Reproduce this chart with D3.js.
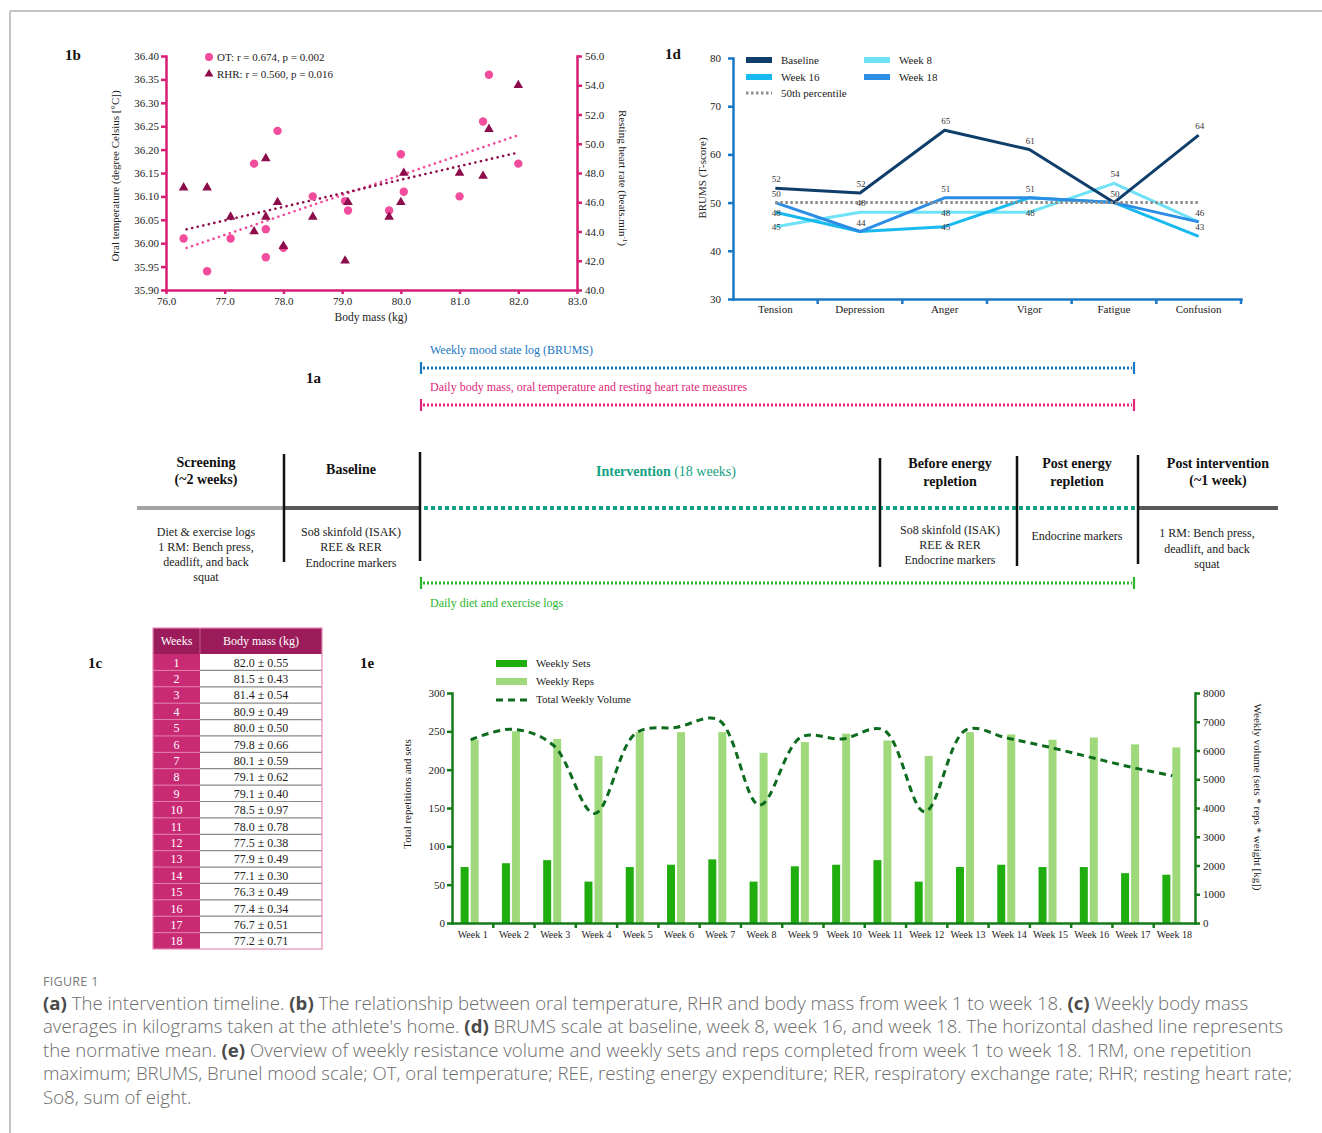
<!DOCTYPE html>
<html>
<head>
<meta charset="utf-8">
<script src="https://cdn.jsdelivr.net/npm/d3@7/dist/d3.min.js"></script>
<style>
html,body{margin:0;padding:0;background:#fff;}
svg{display:block;}
</style>
</head>
<body>
<svg id="fig" width="1322" height="1133" xmlns="http://www.w3.org/2000/svg"></svg>
<script>
// ================= DATA =================
// 1b scatter: body mass vs oral temperature / resting heart rate
const otMass   = [76.3,76.7,77.1,77.5,77.7,77.7,77.9,78.0,78.5,79.05,79.1,79.8,80.0,80.05,81.0,81.4,81.5,82.0];
const otTemp   = [36.01,35.94,36.01,36.17,36.03,35.97,36.24,35.99,36.10,36.09,36.07,36.07,36.19,36.11,36.10,36.26,36.36,36.17];
const rhrMass  = [76.3,76.7,77.1,77.5,77.7,77.7,77.9,78.0,78.5,79.05,79.1,79.8,80.0,80.05,81.0,81.4,81.5,82.0];
const rhrBeats = [47,47,45,44,49,45,46,43,45,42,46,45,46,48,48,47.8,51,54];
const otTrendMass = [76.35, 81.98];
const otTrendTemp = [35.99, 36.23];
const rhrTrendMass = [76.35, 82.0];
const rhrTrendBeats = [44.15, 49.4];
const massTicks = [76,77,78,79,80,81,82,83];
const otTicks = [35.90,35.95,36.00,36.05,36.10,36.15,36.20,36.25,36.30,36.35,36.40];
const rhrTicks = [40,42,44,46,48,50,52,54,56];
const legend1b = ["OT: r = 0.674, p = 0.002", "RHR: r = 0.560, p = 0.016"];

// 1d BRUMS
const brumsCats = ["Tension","Depression","Anger","Vigor","Fatigue","Confusion"];
const brumsBaseline = [53,52,65,61,50,64];
const brumsWeek8    = [45,48,48,48,54,46];
const brumsWeek16   = [48,44,45,51,50,43];
const brumsWeek18   = [50,44,51,51,50,46];
const brumsNorm = 50;
const brumsTicks = [30,40,50,60,70,80];
const brumsLabels = [
  ["Tension","Baseline","52"],["Tension","Week 18","50"],["Tension","Week 16","48"],["Tension","Week 8","45"],
  ["Depression","Baseline","52"],["Depression","Week 8","48"],["Depression","Week 16","44"],
  ["Anger","Baseline","65"],["Anger","Week 18","51"],["Anger","Week 8","48"],["Anger","Week 16","45"],
  ["Vigor","Baseline","61"],["Vigor","Week 16","51"],["Vigor","Week 8","48"],
  ["Fatigue","Week 8","54"],["Fatigue","Baseline","50"],
  ["Confusion","Baseline","64"],["Confusion","Week 18","46"],["Confusion","Week 16","43"]
];

// 1c table
const tableWeeks = [1,2,3,4,5,6,7,8,9,10,11,12,13,14,15,16,17,18];
const massMean = [82.0,81.5,81.4,80.9,80.0,79.8,80.1,79.1,79.1,78.5,78.0,77.5,77.9,77.1,76.3,77.4,76.7,77.2];
const massSD   = [0.55,0.43,0.54,0.49,0.50,0.66,0.59,0.62,0.40,0.97,0.78,0.38,0.49,0.30,0.49,0.34,0.51,0.71];

// 1e training volume
const weekLabels = ["Week 1","Week 2","Week 3","Week 4","Week 5","Week 6","Week 7","Week 8","Week 9","Week 10","Week 11","Week 12","Week 13","Week 14","Week 15","Week 16","Week 17","Week 18"];
const weeklySets = [73,78,82,54,73,76,83,54,74,76,82,54,73,76,73,73,65,63];
const weeklyReps = [239,250,240,218,249,249,249,222,236,247,238,218,249,246,239,242,233,229];
const weeklyVolume = [6370,6740,6190,3810,6600,6810,7070,4100,6460,6400,6720,3870,6720,6430,6120,5770,5420,5120];
const repsTicks = [0,50,100,150,200,250,300];
const volumeTicks = [0,1000,2000,3000,4000,5000,6000,7000,8000];

// 1a timeline texts
const phaseHeaders = [["Screening","(~2 weeks)"],["Baseline"],["Intervention"],["Before energy","repletion"],["Post energy","repletion"],["Post intervention","(~1 week)"]];
const phaseNotes = [
  ["Diet & exercise logs","1 RM: Bench press,","deadlift, and back","squat"],
  ["So8 skinfold (ISAK)","REE & RER","Endocrine markers"],
  [],
  ["So8 skinfold (ISAK)","REE & RER","Endocrine markers"],
  ["Endocrine markers"],
  ["1 RM: Bench press,","deadlift, and back","squat"]
];

// caption
const captionTitle = "FIGURE 1";
const captionLines = [
  [["(a)",1],[" The intervention timeline. ",0],["(b)",1],[" The relationship between oral temperature, RHR and body mass from week 1 to week 18. ",0],["(c)",1],[" Weekly body mass",0]],
  [["averages in kilograms taken at the athlete's home. ",0],["(d)",1],[" BRUMS scale at baseline, week 8, week 16, and week 18. The horizontal dashed line represents",0]],
  [["the normative mean. ",0],["(e)",1],[" Overview of weekly resistance volume and weekly sets and reps completed from week 1 to week 18. 1RM, one repetition",0]],
  [["maximum; BRUMS, Brunel mood scale; OT, oral temperature; REE, resting energy expenditure; RER, respiratory exchange rate; RHR; resting heart rate;",0]],
  [["So8, sum of eight.",0]]
];

// ================= DRAW =================
const SERIF = '"Liberation Serif","Times New Roman",Times,serif';
const SANS = '"Open Sans","Noto Sans",sans-serif';
const svg = d3.select("#fig");
svg.append("rect").attr("width",1322).attr("height",1133).attr("fill","#fff");

// frame
svg.append("line").attr("x1",10).attr("x2",1322).attr("y1",11).attr("y2",11).attr("stroke","#c4c4c4").attr("stroke-width",2);
svg.append("line").attr("x1",10).attr("x2",10).attr("y1",11).attr("y2",1133).attr("stroke","#c4c4c4").attr("stroke-width",2);

function styleAxis(g, color, fs) {
  g.attr("font-family", SERIF).attr("font-size", fs);
  g.select(".domain").attr("stroke", color).attr("stroke-width", 2.5).attr("stroke-linecap","square");
  g.selectAll(".tick line").attr("stroke", color).attr("stroke-width", 2.5);
  g.selectAll(".tick text").attr("fill", "#222");
}
function panelLabel(t, x, y) {
  svg.append("text").attr("x",x).attr("y",y).attr("font-family",SERIF).attr("font-weight","bold").attr("font-size",15).attr("fill","#111").text(t);
}

// ---------- 1b ----------
(function(){
  const col = "#d81e74", ptCol = "#f24c9c", triCol = "#8c0c4c";
  const x = d3.scaleLinear().domain([76,83]).range([166,577]);
  const yL = d3.scaleLinear().domain([35.9,36.4]).range([290,56]);
  const yR = d3.scaleLinear().domain([40,56]).range([290,56]);
  const g = svg.append("g");
  const otTrend = otTrendMass.map((m,i)=>[m, otTrendTemp[i]]);
  const rhrTrend = rhrTrendMass.map((m,i)=>[m, rhrTrendBeats[i]]);
  g.append("path").attr("d", d3.line().x(d=>x(d[0])).y(d=>yL(d[1]))(otTrend))
    .attr("stroke", ptCol).attr("stroke-width",2.6).attr("stroke-linecap","round").attr("stroke-dasharray","0.1,5.6").attr("fill","none");
  g.append("path").attr("d", d3.line().x(d=>x(d[0])).y(d=>yR(d[1]))(rhrTrend))
    .attr("stroke", triCol).attr("stroke-width",2.6).attr("stroke-linecap","round").attr("stroke-dasharray","0.1,5.6").attr("fill","none");
  g.selectAll("circle.ot").data(otMass.map((m,i)=>[m, otTemp[i]])).join("circle")
    .attr("cx", d=>x(d[0])).attr("cy", d=>yL(d[1])).attr("r",4.2).attr("fill",ptCol);
  g.selectAll("path.rhr").data(rhrMass.map((m,i)=>[m, rhrBeats[i]])).join("path")
    .attr("d", d3.symbol(d3.symbolTriangle, 40)).attr("transform", d=>`translate(${x(d[0])},${yR(d[1])})`).attr("fill",triCol);
  const ax = svg.append("g").attr("transform","translate(0,290)")
    .call(d3.axisBottom(x).tickValues(massTicks).tickFormat(d3.format(".1f")).tickSize(4).tickSizeOuter(0).tickPadding(3));
  styleAxis(ax, col, 11);
  const al = svg.append("g").attr("transform","translate(166,0)")
    .call(d3.axisLeft(yL).tickValues(otTicks).tickFormat(d3.format(".2f")).tickSize(5).tickSizeOuter(0).tickPadding(2));
  styleAxis(al, col, 11);
  const ar = svg.append("g").attr("transform","translate(577,0)")
    .call(d3.axisRight(yR).tickValues(rhrTicks).tickFormat(d3.format(".1f")).tickSize(5).tickSizeOuter(0).tickPadding(3));
  styleAxis(ar, col, 11);
  svg.append("text").attr("x",371).attr("y",321).attr("text-anchor","middle").attr("font-family",SERIF).attr("font-size",11.5).attr("fill","#222").text("Body mass (kg)");
  svg.append("text").attr("transform","translate(119,176) rotate(-90)").attr("text-anchor","middle").attr("font-family",SERIF).attr("font-size",11).attr("fill","#222").text("Oral temperature (degree Celsius [°C])");
  const rt = svg.append("text").attr("transform","translate(619,178) rotate(90)").attr("text-anchor","middle").attr("font-family",SERIF).attr("font-size",11).attr("fill","#222");
  rt.append("tspan").text("Resting heart rate (beats.min");
  rt.append("tspan").attr("font-size",7).attr("dy",-4).text("-1");
  rt.append("tspan").attr("dy",4).text(")");
  svg.append("circle").attr("cx",209).attr("cy",57).attr("r",4).attr("fill",ptCol);
  svg.append("path").attr("d",d3.symbol(d3.symbolTriangle,34)).attr("transform","translate(209,74)").attr("fill",triCol);
  legend1b.forEach((t,i)=>{
    svg.append("text").attr("x",217).attr("y",61+i*17).attr("font-family",SERIF).attr("font-size",11).attr("fill","#222").text(t);
  });
  panelLabel("1b", 65, 60);
})();

// ---------- 1d ----------
(function(){
  const col = "#1a77c4";
  const x = d3.scaleBand().domain(brumsCats).range([733,1241]);
  const y = d3.scaleLinear().domain([30,80]).range([299,58]);
  const cx = c => x(c) + x.bandwidth()/2;
  const series = [
    {name:"Week 8",  vals:brumsWeek8,  color:"#6fe2f7"},
    {name:"Week 16", vals:brumsWeek16, color:"#18b9ef"},
    {name:"Week 18", vals:brumsWeek18, color:"#2b8de4"},
    {name:"Baseline",vals:brumsBaseline,color:"#0f3e6b"}
  ];
  const line = d3.line().x((d,i)=>cx(brumsCats[i])).y(d=>y(d));
  series.forEach(s=>{
    svg.append("path").attr("d", line(s.vals)).attr("fill","none").attr("stroke",s.color).attr("stroke-width",3).attr("stroke-linejoin","round");
  });
  svg.append("path").attr("d", line(brumsCats.map(()=>brumsNorm))).attr("fill","none")
    .attr("stroke","#8e8e8e").attr("stroke-width",3).attr("stroke-dasharray","2.5,2.5");
  const al = svg.append("g").attr("transform","translate(733,0)")
    .call(d3.axisLeft(y).tickValues(brumsTicks).tickSize(5).tickSizeOuter(0).tickPadding(7));
  styleAxis(al, col, 11);
  const ab = svg.append("g").attr("transform","translate(0,299)")
    .call(d3.axisBottom(x).tickSize(0).tickPadding(6));
  styleAxis(ab, col, 11);
  ab.selectAll(".bt").data(brumsCats.slice(1).concat(["__end"])).join("line")
    .attr("x1",(d,i)=>x.range()[0]+(i+1)*x.bandwidth()).attr("x2",(d,i)=>x.range()[0]+(i+1)*x.bandwidth())
    .attr("y1",0).attr("y2",5).attr("stroke",col).attr("stroke-width",2.5);
  svg.append("text").attr("transform","translate(706,178) rotate(-90)").attr("text-anchor","middle").attr("font-family",SERIF).attr("font-size",11).attr("fill","#222").text("BRUMS (T-score)");
  const onPoint = new Set(["Tension|Week 16","Tension|Week 8","Anger|Week 8","Anger|Week 16","Vigor|Week 8"]);
  brumsLabels.forEach(([c,sn,t])=>{
    const s = series.find(q=>q.name===sn);
    const v = s.vals[brumsCats.indexOf(c)];
    const on = onPoint.has(c+"|"+sn);
    svg.append("text").attr("x",cx(c)+1).attr("y", y(v) + (on ? 3.5 : -6))
      .attr("text-anchor","middle").attr("font-family",SERIF).attr("font-size",9).attr("fill","#333").text(t);
  });
  const leg = [
    {name:"Baseline", color:"#0f3e6b", x:746, y:60},
    {name:"Week 8",   color:"#6fe2f7", x:864, y:60},
    {name:"Week 16",  color:"#18b9ef", x:746, y:77},
    {name:"Week 18",  color:"#2b8de4", x:864, y:77}
  ];
  leg.forEach(l=>{
    svg.append("rect").attr("x",l.x).attr("y",l.y-3).attr("width",26).attr("height",6).attr("fill",l.color);
    svg.append("text").attr("x",l.x+35).attr("y",l.y+4).attr("font-family",SERIF).attr("font-size",11).attr("fill","#222").text(l.name);
  });
  svg.append("line").attr("x1",746).attr("x2",772).attr("y1",93).attr("y2",93).attr("stroke","#8e8e8e").attr("stroke-width",3).attr("stroke-dasharray","2.5,2.5");
  svg.append("text").attr("x",781).attr("y",97).attr("font-family",SERIF).attr("font-size",11).attr("fill","#222").text("50th percentile");
  panelLabel("1d", 665, 59);
})();

// ---------- 1a timeline ----------
(function(){
  const blue="#1a78c2", pink="#e0267a", teal="#12a182", green="#2cb52c";
  const x0 = 421, x1 = 1134;
  function dotted(y, color, label, ly) {
    svg.append("line").attr("x1",x0+2).attr("x2",x1-2).attr("y1",y).attr("y2",y).attr("stroke",color).attr("stroke-width",3).attr("stroke-dasharray","2,2");
    [x0,x1].forEach(xx=>svg.append("line").attr("x1",xx).attr("x2",xx).attr("y1",y-6).attr("y2",y+6).attr("stroke",color).attr("stroke-width",2.2));
    svg.append("text").attr("x",430).attr("y",ly).attr("font-family",SERIF).attr("font-size",12).attr("fill",color).text(label);
  }
  dotted(368, blue, "Weekly mood state log (BRUMS)", 354);
  dotted(405, pink, "Daily body mass, oral temperature and resting heart rate measures", 391);
  dotted(583, green, "Daily diet and exercise logs", 607);
  panelLabel("1a", 306, 383);

  svg.append("line").attr("x1",137).attr("x2",284).attr("y1",508).attr("y2",508).attr("stroke","#a3a3a3").attr("stroke-width",4);
  svg.append("line").attr("x1",284).attr("x2",420).attr("y1",508).attr("y2",508).attr("stroke","#595959").attr("stroke-width",4);
  svg.append("line").attr("x1",424).attr("x2",1136).attr("y1",508).attr("y2",508).attr("stroke",teal).attr("stroke-width",4).attr("stroke-dasharray","4,3");
  svg.append("line").attr("x1",1138).attr("x2",1278).attr("y1",508).attr("y2",508).attr("stroke","#595959").attr("stroke-width",4);
  [[284,454,562],[420,452,561],[880,458,567],[1017,456,566],[1138,455,564]].forEach(([x,a,b])=>{
    svg.append("line").attr("x1",x).attr("x2",x).attr("y1",a).attr("y2",b).attr("stroke","#111").attr("stroke-width",2.5);
  });
  const hx = [206,351,666,950,1077,1218];
  const hy = [[467,484],[474],[476],[468,486],[468,486],[468,485]];
  phaseHeaders.forEach((h,i)=>{
    h.forEach((t,j)=>{
      const tx = svg.append("text").attr("x",hx[i]).attr("y",hy[i][j]).attr("text-anchor","middle")
        .attr("font-family",SERIF).attr("font-size",14).attr("font-weight","bold").attr("fill", i===2?teal:"#111");
      tx.append("tspan").text(t);
      if (i===2) tx.append("tspan").attr("font-weight","normal").text(" (18 weeks)");
    });
  });
  const nx = [206,351,0,950,1077,1207];
  const ny = [[536,551,566,581],[536,551,567],[],[534,549,564],[540],[537,553,568]];
  phaseNotes.forEach((n,i)=>{
    n.forEach((t,j)=>{
      svg.append("text").attr("x",nx[i]).attr("y",ny[i][j]).attr("text-anchor","middle")
        .attr("font-family",SERIF).attr("font-size",12).attr("fill","#222").text(t);
    });
  });
})();

// ---------- 1c table ----------
(function(){
  const xL = 153, xM = 200, xR = 322;
  const rowY = d3.scaleBand().domain(tableWeeks).range([654,949]);
  const g = svg.append("g");
  g.append("rect").attr("x",xL).attr("y",628).attr("width",xR-xL).attr("height",26).attr("fill","#9b1b5b");
  g.append("line").attr("x1",xM).attr("x2",xM).attr("y1",628).attr("y2",654).attr("stroke","#c25a8c").attr("stroke-width",1);
  g.append("text").attr("x",(xL+xM)/2).attr("y",645).attr("text-anchor","middle").attr("font-family",SERIF).attr("font-size",12).attr("fill","#fff").text("Weeks");
  g.append("text").attr("x",(xM+xR)/2).attr("y",645).attr("text-anchor","middle").attr("font-family",SERIF).attr("font-size",12).attr("fill","#fff").text("Body mass (kg)");
  g.selectAll("rect.wk").data(tableWeeks).join("rect").attr("x",xL).attr("y",d=>rowY(d)).attr("width",xM-xL).attr("height",rowY.bandwidth()).attr("fill","#c92a74");
  g.selectAll("line.sepL").data(tableWeeks.slice(1)).join("line").attr("x1",xL).attr("x2",xM).attr("y1",d=>rowY(d)).attr("y2",d=>rowY(d)).attr("stroke","#e07eab").attr("stroke-width",1);
  g.selectAll("line.sepR").data(tableWeeks.slice(1)).join("line").attr("x1",xM).attr("x2",xR).attr("y1",d=>rowY(d)).attr("y2",d=>rowY(d)).attr("stroke","#8a8a8a").attr("stroke-width",1.2);
  g.selectAll("text.wk").data(tableWeeks).join("text").attr("x",(xL+xM)/2).attr("y",d=>rowY(d)+rowY.bandwidth()/2+4.5)
    .attr("text-anchor","middle").attr("font-family",SERIF).attr("font-size",12).attr("fill","#fff").text(d=>d);
  g.selectAll("text.bm").data(tableWeeks).join("text").attr("x",(xM+xR)/2).attr("y",(d)=>rowY(d)+rowY.bandwidth()/2+4.5)
    .attr("text-anchor","middle").attr("font-family",SERIF).attr("font-size",12).attr("fill","#222")
    .text((d,i)=>massMean[i].toFixed(1)+" ± "+massSD[i].toFixed(2));
  g.append("rect").attr("x",xL).attr("y",628).attr("width",xR-xL).attr("height",949-628).attr("fill","none").attr("stroke","#e58cb6").attr("stroke-width",1.2);
  panelLabel("1c", 88, 668);
})();

// ---------- 1e ----------
(function(){
  const col = "#137a1a", setCol = "#20ae0f", repCol = "#9fd97b", lineCol = "#0d6b1e";
  const x = d3.scaleBand().domain(weekLabels).range([452,1195]);
  const yL = d3.scaleLinear().domain([0,300]).range([923,693]);
  const yR = d3.scaleLinear().domain([0,8000]).range([923,693]);
  const c = w => x(w) + x.bandwidth()/2;
  svg.selectAll("rect.sets").data(weeklySets).join("rect")
    .attr("x",(d,i)=>c(weekLabels[i])-12).attr("width",8).attr("y",d=>yL(d)).attr("height",d=>yL(0)-yL(d)).attr("fill",setCol);
  svg.selectAll("rect.reps").data(weeklyReps).join("rect")
    .attr("x",(d,i)=>c(weekLabels[i])-2).attr("width",8).attr("y",d=>yL(d)).attr("height",d=>yL(0)-yL(d)).attr("fill",repCol);
  svg.append("path").attr("d", d3.line().curve(d3.curveCatmullRom.alpha(0.5)).x((d,i)=>c(weekLabels[i])-2).y(d=>yR(d))(weeklyVolume))
    .attr("fill","none").attr("stroke",lineCol).attr("stroke-width",3).attr("stroke-dasharray","7,5");
  const al = svg.append("g").attr("transform","translate(452,0)")
    .call(d3.axisLeft(yL).tickValues(repsTicks).tickSize(5).tickSizeOuter(0).tickPadding(2));
  styleAxis(al, col, 11);
  const ar = svg.append("g").attr("transform","translate(1195,0)")
    .call(d3.axisRight(yR).tickValues(volumeTicks).tickFormat(d3.format("d")).tickSize(5).tickSizeOuter(0).tickPadding(3));
  styleAxis(ar, col, 11);
  const ab = svg.append("g").attr("transform","translate(0,923)")
    .call(d3.axisBottom(x).tickSize(0).tickPadding(8));
  styleAxis(ab, col, 10);
  ab.selectAll(".bt").data(weekLabels.slice(1)).join("line")
    .attr("x1",d=>x(d)).attr("x2",d=>x(d)).attr("y1",0).attr("y2",5).attr("stroke",col).attr("stroke-width",2.5);
  svg.append("text").attr("transform","translate(411,794) rotate(-90)").attr("text-anchor","middle").attr("font-family",SERIF).attr("font-size",11).attr("fill","#222").text("Total repetitions and sets");
  svg.append("text").attr("transform","translate(1254,797) rotate(90)").attr("text-anchor","middle").attr("font-family",SERIF).attr("font-size",11).attr("fill","#222").text("Weekly volume (sets * reps * weight [kg])");
  svg.append("rect").attr("x",496).attr("y",660).attr("width",31).attr("height",7).attr("fill",setCol);
  svg.append("rect").attr("x",496).attr("y",678).attr("width",31).attr("height",7).attr("fill",repCol);
  svg.append("line").attr("x1",496).attr("x2",527).attr("y1",700).attr("y2",700).attr("stroke",lineCol).attr("stroke-width",3).attr("stroke-dasharray","7,5");
  [["Weekly Sets",667],["Weekly Reps",685],["Total Weekly Volume",703]].forEach(([t,yy])=>{
    svg.append("text").attr("x",536).attr("y",yy).attr("font-family",SERIF).attr("font-size",11).attr("fill","#222").text(t);
  });
  panelLabel("1e", 360, 668);
})();

// ---------- caption ----------
(function(){
  svg.append("text").attr("x",43).attr("y",986).attr("font-family",SANS).attr("font-size",12.5).attr("letter-spacing",0.3).attr("fill","#7a7a7a").text(captionTitle);
  const baseY = [1010,1033,1057,1080,1104];
  const texts = captionLines.map((segs,i)=>{
    const t = svg.append("text").attr("x",43).attr("y",baseY[i]).attr("font-family",SANS).attr("font-size",17).attr("font-weight",300).attr("fill","#6b6b6b");
    segs.forEach(([s,b])=>{
      const ts = t.append("tspan").text(s);
      if (b) ts.attr("font-weight","bold").attr("fill","#4a4a4a");
    });
    return t;
  });
  const w = texts[3].node().getComputedTextLength();
  const fs = 17 * 1250 / w;
  texts.forEach(t=>t.attr("font-size", fs));
})();
</script>
</body>
</html>
